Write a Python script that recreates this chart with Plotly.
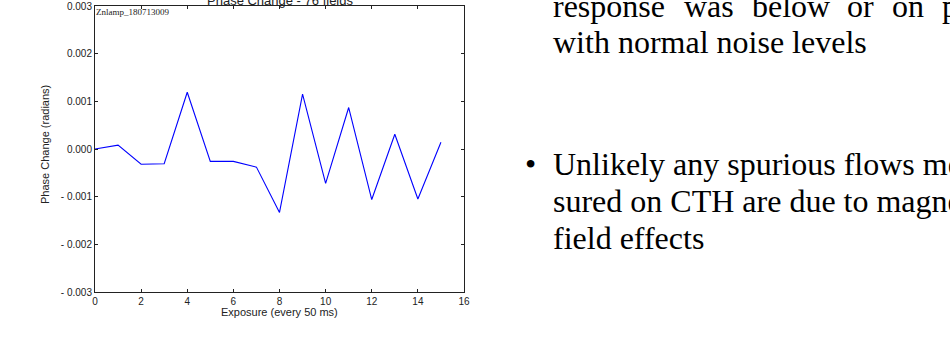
import plotly.graph_objects as go

# ---- data ----
exposure = list(range(16))
phase_change = [0.0000, 0.00008, -0.00032, -0.00031, 0.00119, -0.00026, -0.00026, -0.00038,
                -0.00133, 0.00115, -0.00072, 0.00087, -0.00106, 0.00031, -0.00105, 0.00014]
y_tickvals = [-0.003, -0.002, -0.001, 0.0, 0.001, 0.002, 0.003]
y_ticktext = ["- 0.003", "- 0.002", "- 0.001", "0.000", "0.001", "0.002", "0.003"]
x_tickvals = [0, 2, 4, 6, 8, 10, 12, 14, 16]

title_text = "Phase Change - 76 fields"
run_label = "Znlamp_180713009"
x_title = "Exposure (every 50 ms)"
y_title = "Phase Change (radians)"

line1_words = ["response", "was", "below", "or", "on", "p"]
line1_word_px = [553, 684, 752, 847, 892, 942]
bullet_lines = ["with normal noise levels"]
bullet2_lines = ["Unlikely any spurious flows me", "sured on CTH are due to magne", "field effects"]

W, H = 950, 344
L, R, T, B = 95, 464, 6, 292  # plot area pixel box


def px_x(px):
    return (px - L) / (R - L)


def px_y(py):
    return (B - py) / (B - T)


fig = go.Figure()
fig.add_trace(go.Scatter(x=exposure, y=phase_change, mode="lines",
                         line=dict(color="#0000ff", width=1.1), showlegend=False,
                         hoverinfo="skip"))

sans = "Liberation Sans, Arial, sans-serif"
tick_font = dict(family=sans, size=10, color="#222")
title_font = dict(family=sans, size=11, color="#222")
fig.update_xaxes(range=[0, 16], tickvals=x_tickvals, ticks="inside", ticklen=3,
                 tickcolor="#222", showline=True, linecolor="#222", linewidth=1,
                 mirror="ticks", showgrid=False, zeroline=False, tickfont=tick_font,
                 automargin=False)
fig.update_yaxes(range=[-0.003, 0.003], tickvals=y_tickvals, ticktext=y_ticktext,
                 ticks="inside", ticklen=3, tickcolor="#222", showline=True,
                 linecolor="#222", linewidth=1, mirror="ticks", showgrid=False,
                 zeroline=False, tickfont=tick_font, automargin=False)

serif = "Liberation Serif, Times New Roman, serif"
ann = []
# title (mostly cut off at the top)
ann.append(dict(text=title_text, x=0.5, y=px_y(0.5), xref="paper", yref="paper",
                xanchor="center", yanchor="middle", showarrow=False,
                font=dict(family=sans, size=13, color="#222")))
# run label
ann.append(dict(text=run_label, x=px_x(94), y=px_y(11.5), xref="paper", yref="paper",
                xanchor="left", yanchor="middle", showarrow=False,
                font=dict(family=serif, size=9, color="#222")))
# axis titles
ann.append(dict(text=x_title, x=0.5, y=px_y(312), xref="paper", yref="paper",
                xanchor="center", yanchor="middle", showarrow=False, font=title_font))
ann.append(dict(text=y_title, x=px_x(45), y=px_y(145), xref="paper", yref="paper",
                xanchor="center", yanchor="middle", textangle=-90, showarrow=False,
                font=title_font))

text_font = dict(family=serif, size=32, color="#000")
# justified first line
for w, xp in zip(line1_words, line1_word_px):
    ann.append(dict(text=w, x=px_x(xp - 2), y=px_y(6), xref="paper", yref="paper",
                    xanchor="left", yanchor="middle", showarrow=False, font=text_font))
ann.append(dict(text=bullet_lines[0], x=px_x(551), y=px_y(42), xref="paper", yref="paper",
                xanchor="left", yanchor="middle", showarrow=False, font=text_font))
# second bullet
ann.append(dict(text="•", x=px_x(523), y=px_y(164), xref="paper", yref="paper",
                xanchor="left", yanchor="middle", showarrow=False, font=text_font))
for i, t in enumerate(bullet2_lines):
    ann.append(dict(text=t, x=px_x(551), y=px_y(164 + 37 * i), xref="paper", yref="paper",
                    xanchor="left", yanchor="middle", showarrow=False, font=text_font))

fig.update_layout(width=W, height=H, margin=dict(l=L, r=W - R, t=T, b=H - B),
                  paper_bgcolor="white", plot_bgcolor="white", annotations=ann)

fig.write_html("out.html", config={"displayModeBar": False},
               post_script="document.body.style.margin='0';document.body.style.overflow='hidden';")
